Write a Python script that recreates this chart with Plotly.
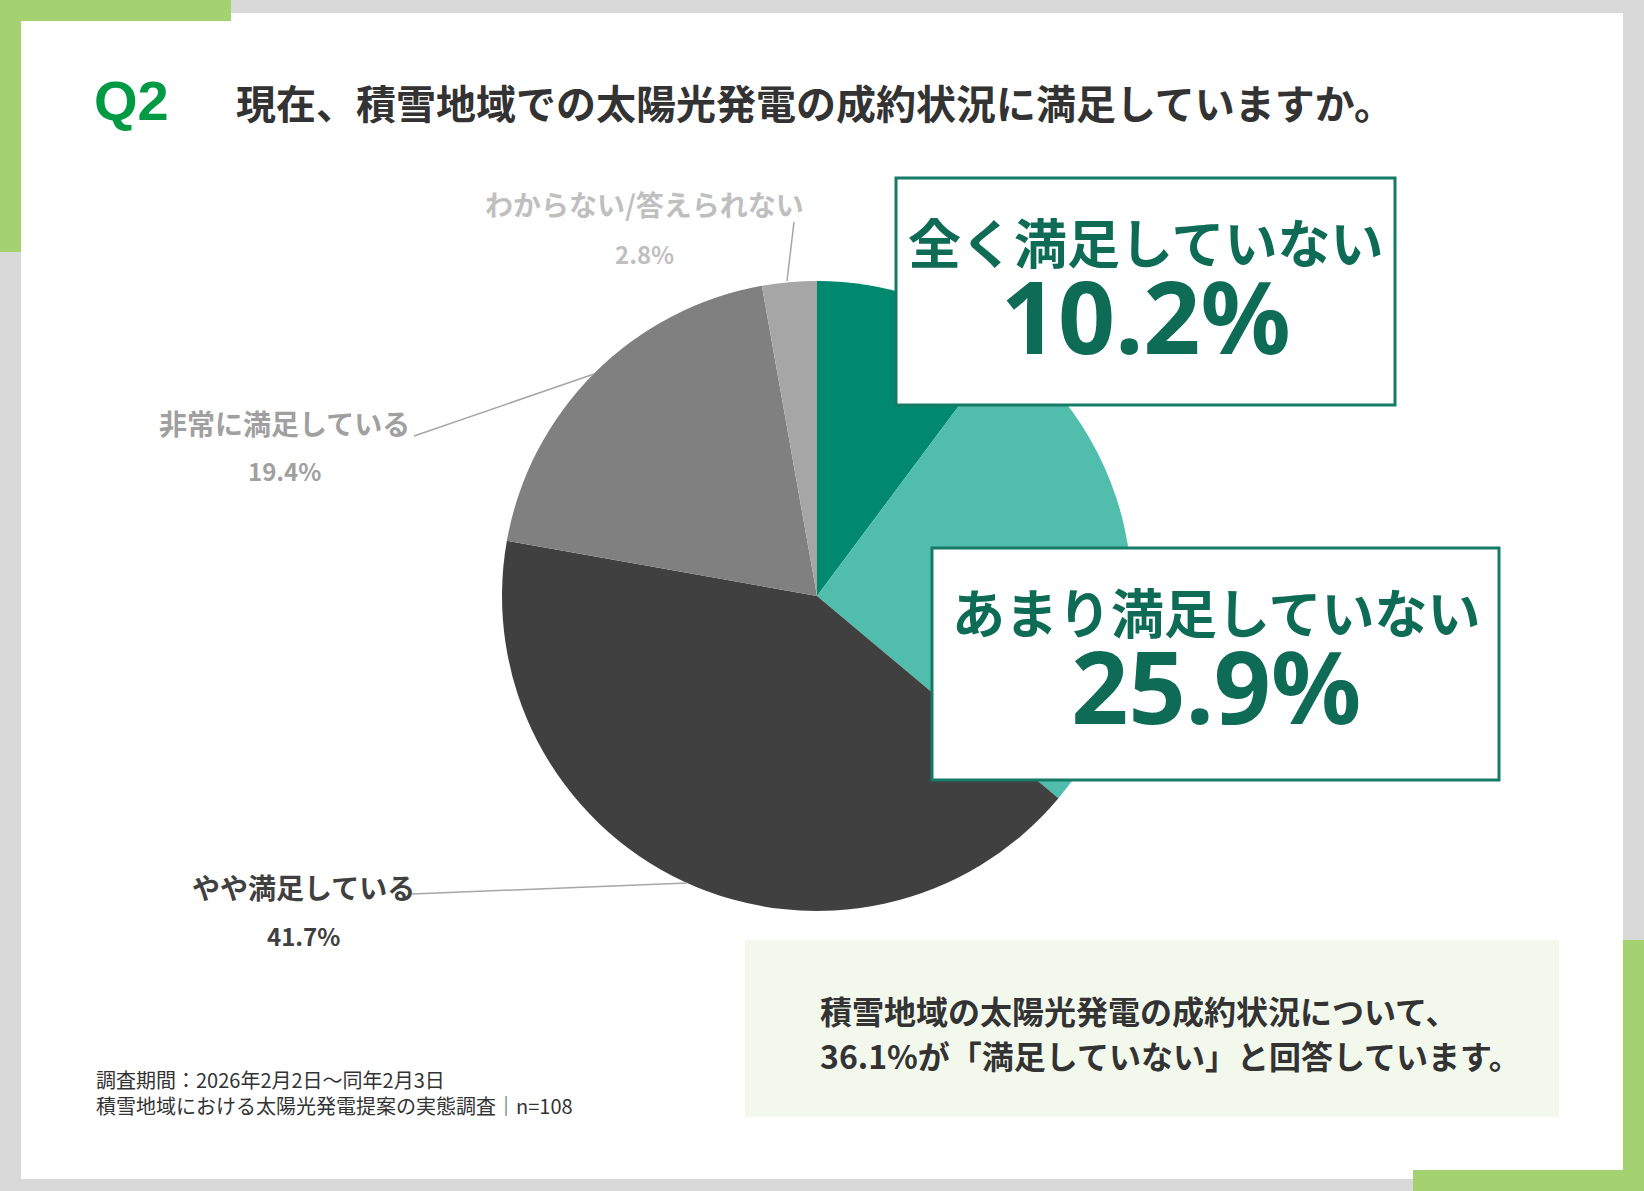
import plotly.graph_objects as go

# figure size in px
W, H = 1644, 1191

# data
labels = ["全く満足していない", "あまり満足していない", "やや満足している",
          "非常に満足している", "わからない/答えられない"]
values = [10.2, 25.9, 41.7, 19.4, 2.8]
colors = ["#00896F", "#50BDAD", "#404040", "#808080", "#A6A6A6"]

title_q = "Q2"
title_text = "現在、積雪地域での太陽光発電の成約状況に満足していますか。"
summary_lines = ["積雪地域の太陽光発電の成約状況について、",
                 "36.1%が「満足していない」と回答しています。"]
footnote_lines = ["調査期間：2026年2月2日～同年2月3日",
                  "積雪地域における太陽光発電提案の実態調査│n=108"]

JP = "Noto Sans CJK JP"
TEAL_TXT = "#0E6B55"


def px(x, y):
    # pixel position -> paper coords
    return x / W, 1 - y / H


fig = go.Figure()

fig.add_trace(go.Pie(
    labels=labels,
    values=values,
    sort=False,
    direction="clockwise",
    rotation=0,
    marker=dict(colors=colors, line=dict(width=0)),
    textinfo="none",
    hoverinfo="label+percent",
    showlegend=False,
    domain=dict(x=[(817 - 315) / W, (817 + 315) / W],
                y=[1 - (596 + 315) / H, 1 - (596 - 315) / H]),
))

shapes = []
annotations = []


def rect(x0, y0, x1, y1, **kw):
    a, b = px(x0, y0)
    c, d = px(x1, y1)
    shapes.append(dict(type="rect", xref="paper", yref="paper",
                       x0=a, y0=d, x1=c, y1=b, layer="below", **kw))


def line(x0, y0, x1, y1, color="#A6A6A6", width=1.5):
    a, b = px(x0, y0)
    c, d = px(x1, y1)
    shapes.append(dict(type="line", xref="paper", yref="paper",
                       x0=a, y0=b, x1=c, y1=d, line=dict(color=color, width=width)))


def text(x, y, s, size, color, xanchor="center", bold=True, family=JP):
    a, b = px(x, y)
    annotations.append(dict(xref="paper", yref="paper", x=a, y=b, text=s,
                            showarrow=False, xanchor=xanchor, yanchor="middle",
                            align=xanchor if xanchor != "center" else "center",
                            font=dict(family=family, size=size, color=color,
                                      weight="bold" if bold else "normal")))


# background frame
rect(0, 0, W, H, fillcolor="#D9D9D9", line=dict(width=0))
rect(21, 13, 1623, 1179, fillcolor="#FFFFFF", line=dict(width=0))
# green corners
rect(0, 0, 231, 21, fillcolor="#A5D271", line=dict(width=0))
rect(0, 0, 21, 252, fillcolor="#A5D271", line=dict(width=0))
rect(1623, 940, W, H, fillcolor="#A5D271", line=dict(width=0))
rect(1413, 1170, W, H, fillcolor="#A5D271", line=dict(width=0))
# summary box
rect(745, 940, 1559, 1117, fillcolor="#F3F8EC", line=dict(width=0))

# title
text(92, 101, title_q, 56, "#009944", xanchor="left", family="Arial")
text(234, 102, title_text, 40, "#333333", xanchor="left")

# outside labels + leader lines
line(794, 222, 787, 281)
text(644, 204, labels[4], 28, "#BFBFBF")
text(644, 254, f"{values[4]}%", 24, "#BFBFBF")

line(414, 436, 594, 374)
text(284, 423, labels[3], 28, "#A0A0A0")
text(284, 471, f"{values[3]}%", 24, "#A0A0A0")

line(412, 894, 687, 883)
text(303, 887, labels[2], 28, "#404040")
text(303, 935, f"{values[2]}%", 24, "#404040")

# callout boxes
for (x0, y0, x1, y1) in [(896, 178, 1395, 405), (932, 548, 1499, 780)]:
    a, b = px(x0, y0)
    c, d = px(x1, y1)
    shapes.append(dict(type="rect", xref="paper", yref="paper", x0=a, y0=d, x1=c, y1=b,
                       fillcolor="#FFFFFF", line=dict(color="#157A66", width=3), layer="above"))


def callout(x, y, label, val):
    s = (f"<span style='font-size:53px'>{label}</span><br>"
         f"<span style='font-family:Noto Sans;font-size:100px'>{val}%</span>")
    text(x, y, s, 69, TEAL_TXT)


callout(1145, 293, labels[0], values[0])
callout(1216, 663, labels[1], values[1])

# summary text
text(818, 1010, summary_lines[0], 32, "#333333", xanchor="left")
text(818, 1055, summary_lines[1], 32, "#333333", xanchor="left")

# footnote
text(94, 1092, "<br>".join(footnote_lines), 20, "#333333", xanchor="left", bold=False)

fig.update_layout(
    width=W, height=H,
    margin=dict(l=0, r=0, t=0, b=0),
    paper_bgcolor="#FFFFFF",
    shapes=shapes,
    annotations=annotations,
)

fig.write_html("out.html", config={"displayModeBar": False},
               post_script="document.body.style.margin='0';")
